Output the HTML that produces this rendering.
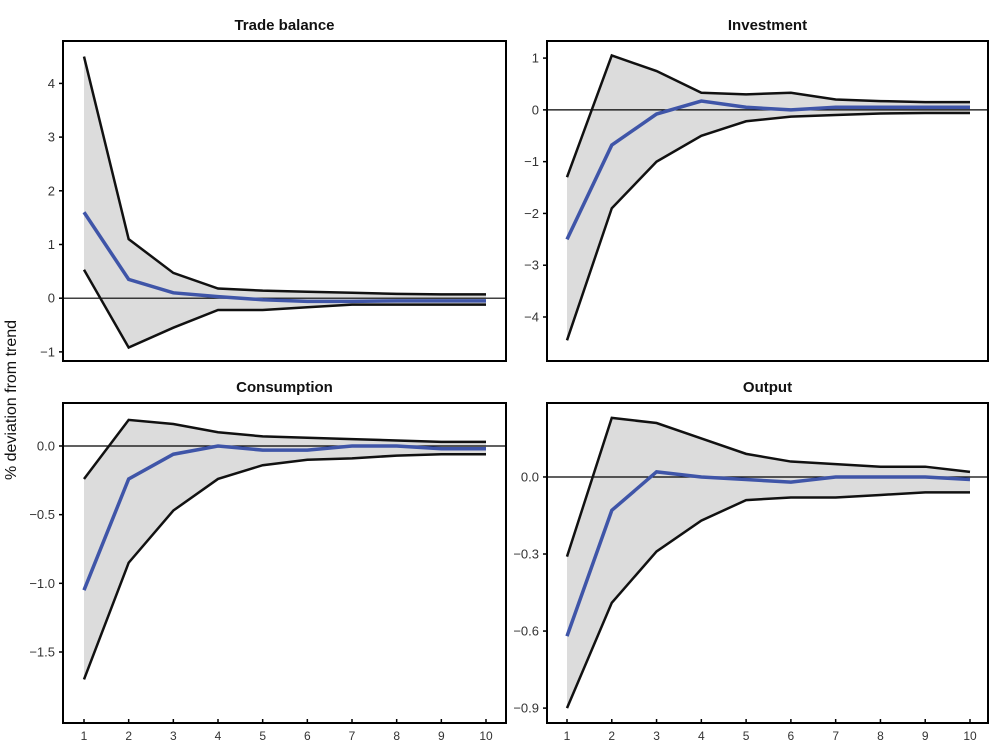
<!DOCTYPE html>
<html><head><meta charset="utf-8"><style>
body{margin:0;background:#fff;}
svg{display:block;font-family:"Liberation Sans",Arial,sans-serif;}
</style></head><body>
<svg id="c" width="1000" height="750">
<text x="16" y="400" transform="rotate(-90 16 400)" text-anchor="middle" font-size="16" fill="#111">% deviation from trend</text>
</svg>
<script>
const periods=[1,2,3,4,5,6,7,8,9,10];
const tbUpper=[4.5,1.1,0.47,0.18,0.14,0.12,0.1,0.08,0.07,0.07];
const tbMean=[1.6,0.35,0.1,0.03,-0.03,-0.06,-0.06,-0.05,-0.05,-0.05];
const tbLower=[0.53,-0.92,-0.55,-0.22,-0.22,-0.17,-0.12,-0.12,-0.12,-0.12];
const invUpper=[-1.3,1.05,0.75,0.33,0.3,0.33,0.2,0.17,0.15,0.15];
const invMean=[-2.5,-0.68,-0.08,0.17,0.05,0,0.05,0.05,0.05,0.05];
const invLower=[-4.45,-1.9,-1.0,-0.5,-0.22,-0.13,-0.1,-0.07,-0.06,-0.06];
const conUpper=[-0.24,0.19,0.16,0.1,0.07,0.06,0.05,0.04,0.03,0.03];
const conMean=[-1.05,-0.24,-0.06,0.0,-0.03,-0.03,0.0,0.0,-0.02,-0.02];
const conLower=[-1.7,-0.85,-0.47,-0.24,-0.14,-0.1,-0.09,-0.07,-0.06,-0.06];
const outUpper=[-0.31,0.23,0.21,0.15,0.09,0.06,0.05,0.04,0.04,0.02];
const outMean=[-0.62,-0.13,0.02,0.0,-0.01,-0.02,0.0,0.0,0.0,-0.01];
const outLower=[-0.9,-0.49,-0.29,-0.17,-0.09,-0.08,-0.08,-0.07,-0.06,-0.06];
const tbTicks=[-1,0,1,2,3,4], tbLabels=["−1","0","1","2","3","4"];
const invTicks=[-4,-3,-2,-1,0,1], invLabels=["−4","−3","−2","−1","0","1"];
const conTicks=[-1.5,-1,-0.5,0], conLabels=["−1.5","−1.0","−0.5","0.0"];
const outTicks=[-0.9,-0.6,-0.3,0], outLabels=["−0.9","−0.6","−0.3","0.0"];

const svg=document.getElementById('c');
const NS='http://www.w3.org/2000/svg';
function mk(tag,attrs,parent){const e=document.createElementNS(NS,tag);for(const k in attrs)e.setAttribute(k,attrs[k]);(parent||svg).appendChild(e);return e;}

function panel(o){
  const g=mk('g',{});
  
  
  const xs=v=>o.x1+(v-1)*(o.x10-o.x1)/9;
  const ys=v=>o.y0+(v-o.ymax)*(o.y1-o.y0)/(o.ymin-o.ymax);
  const band=periods.map((p,i)=>xs(p)+','+ys(o.up[i])).concat(periods.slice().reverse().map((p,j)=>{const i=9-j;return xs(p)+','+ys(o.lo[i]);})).join(' ');
  const b=mk('polygon',{points:band,fill:'#dcdcdc',stroke:'none'},g);
  
  
  const z=mk('line',{x1:o.L,x2:o.R,y1:ys(0),y2:ys(0),stroke:'#000','stroke-width':1.2},g);
  
  
  const line=(arr,col,w,nm)=>{const l=mk('polyline',{points:periods.map((p,i)=>xs(p)+','+ys(arr[i])).join(' '),fill:'none',stroke:col,'stroke-width':w,'stroke-linejoin':'miter'},g);
    
    };
  line(o.up,'#111',2.5,'upper-bound-line');
  line(o.lo,'#111',2.5,'lower-bound-line');
  line(o.mean,'#3f55a8',3.5,'mean-response-line');
  const fr=mk('rect',{x:o.L,y:o.y0,width:o.R-o.L,height:o.y1-o.y0,fill:'none',stroke:'#000','stroke-width':2},g);
  
  
  o.ticks.forEach((t,i)=>{
    mk('line',{x1:o.L-4,x2:o.L,y1:ys(t),y2:ys(t),stroke:'#000','stroke-width':1.5},g);
    const tx=mk('text',{x:o.L-8,y:ys(t)+4.5,'text-anchor':'end','font-size':13,fill:'#333'},g);
    tx.textContent=o.labels[i];
    
    
  });
  if(o.xaxis){periods.forEach(p=>{
    mk('line',{x1:xs(p),x2:xs(p),y1:o.y1,y2:o.y1-4,stroke:'#000','stroke-width':1.5},g);
    const tx=mk('text',{x:xs(p),y:o.y1+17,'text-anchor':'middle','font-size':12,fill:'#333'},g);
    tx.textContent=p;
    
    
  });}
  const t=mk('text',{x:(o.L+o.R)/2,y:o.y0-11,'text-anchor':'middle','font-size':15,'font-weight':'bold',fill:'#111'},g);
  t.textContent=o.title;
  
  
}
panel({name:'trade-balance-panel',title:'Trade balance',L:63,R:506,y0:41,y1:361,x1:84,x10:486,ymax:4.79,ymin:-1.17,up:tbUpper,mean:tbMean,lo:tbLower,ticks:tbTicks,labels:tbLabels,xaxis:false});
panel({name:'investment-panel',title:'Investment',L:547,R:988,y0:41,y1:361,x1:567,x10:970,ymax:1.33,ymin:-4.85,up:invUpper,mean:invMean,lo:invLower,ticks:invTicks,labels:invLabels,xaxis:false});
panel({name:'consumption-panel',title:'Consumption',L:63,R:506,y0:403,y1:723,x1:84,x10:486,ymax:0.313,ymin:-2.017,up:conUpper,mean:conMean,lo:conLower,ticks:conTicks,labels:conLabels,xaxis:true});
panel({name:'output-panel',title:'Output',L:547,R:988,y0:403,y1:723,x1:567,x10:970,ymax:0.288,ymin:-0.958,up:outUpper,mean:outMean,lo:outLower,ticks:outTicks,labels:outLabels,xaxis:true});
</script>
</body></html>
